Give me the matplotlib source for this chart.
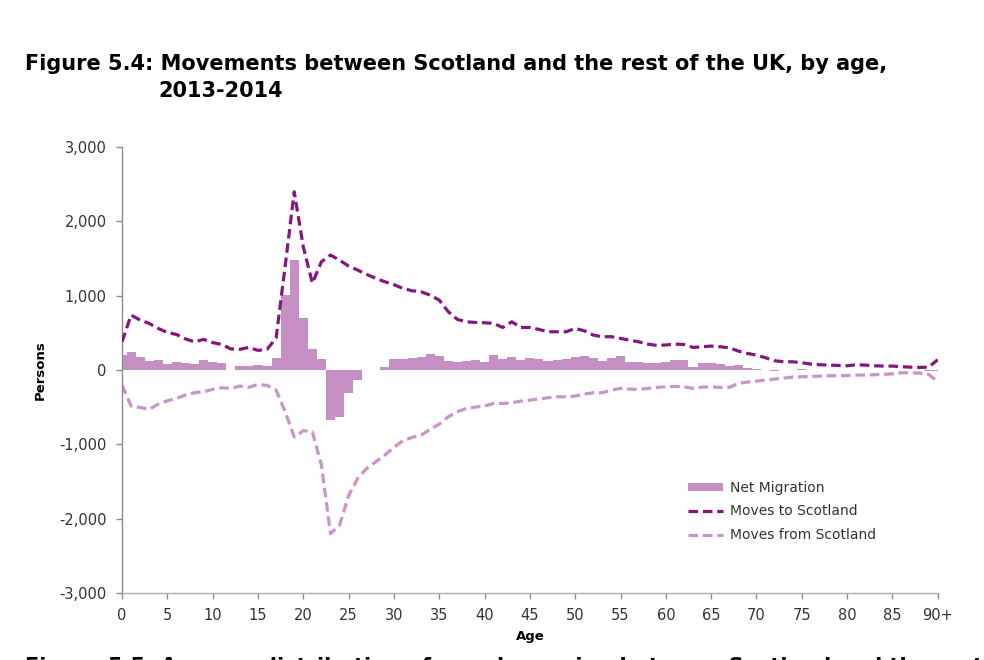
import numpy as np
import matplotlib
matplotlib.use('Agg')
import matplotlib.pyplot as plt
from matplotlib.patches import Patch
from matplotlib.lines import Line2D
from matplotlib.ticker import FuncFormatter

plt.rcParams['font.family'] = ['DejaVu Sans']

# --- dados (idade 0..90+) ---
idades = np.arange(0, 91)

moves_to = [381, 740, 673, 628, 560, 505, 480, 420, 380, 413,
            370, 345, 285, 280, 305, 265, 280, 430, 1400, 2400,
            1660, 1170, 1458, 1548, 1480, 1400, 1346, 1287, 1234, 1189,
            1150, 1099, 1068, 1054, 1009, 942, 785, 682, 650, 641,
            637, 628, 574, 650, 574, 574, 547, 516, 516, 516,
            561, 529, 471, 449, 449, 426, 404, 381, 350, 332,
            338, 350, 345, 305, 314, 323, 314, 300, 256, 224,
            202, 166, 126, 112, 112, 99, 81, 72, 67, 63,
            58, 72, 67, 58, 54, 54, 45, 40, 36, 40,
            140]

moves_from = [-202, -484, -502, -529, -458, -413, -381, -336, -305, -292,
              -260, -238, -247, -215, -233, -193, -206, -269, -560, -900,
              -816, -830, -1278, -2200, -2090, -1690, -1458, -1323, -1234, -1144,
              -1040, -950, -906, -875, -799, -727, -628, -561, -516, -498,
              -484, -449, -449, -440, -417, -404, -390, -372, -359, -359,
              -350, -323, -305, -305, -269, -247, -256, -260, -247, -233,
              -224, -220, -224, -247, -229, -224, -233, -233, -179, -161,
              -148, -135, -121, -108, -94, -90, -85, -81, -76, -76,
              -72, -67, -67, -63, -58, -49, -36, -36, -40, -58,
              -157]

net_migration = [200, 238, 180, 121, 135, 81, 112, 99, 76, 135,
                 112, 99, 0, 54, 54, 63, 58, 157, 1015, 1485,
                 705, 290, 145, -673, -637, -314, -135, -5, 5, 36,
                 143, 143, 157, 170, 215, 188, 121, 112, 121, 135,
                 112, 202, 143, 179, 135, 166, 152, 126, 135, 143,
                 170, 188, 157, 121, 157, 188, 112, 112, 99, 99,
                 105, 135, 130, 35, 100, 95, 80, 55, 75, 25,
                 20, 5, -15, 5, 8, 10, 5, 5, 5, 3,
                 2, 5, 3, 3, 3, 5, 8, 3, -3, -15,
                 -15]

xticks = list(range(0, 91, 5))
xticklabels = [str(t) for t in xticks[:-1]] + ['90+']

cor_barra = '#c68fc4'
cor_to = '#84167f'
cor_from = '#cc92ca'
cinza = '#8c8c8c'

fig = plt.figure(figsize=(9.84, 6.6), dpi=100)
ax = fig.add_axes([0.124, 0.1015, 0.829, 0.6755])

ax.bar(idades, net_migration, width=1.0, color=cor_barra, linewidth=0, zorder=1)
ax.plot(idades, moves_to, color=cor_to, lw=2.3, dashes=(3.0, 1.5), zorder=3)
ax.plot(idades, moves_from, color=cor_from, lw=2.3, dashes=(3.0, 1.5), zorder=2)

ax.set_xlim(0, 90)
ax.set_ylim(-3000, 3000)
ax.set_yticks(range(-3000, 3001, 1000))
ax.yaxis.set_major_formatter(FuncFormatter(lambda v, p: f'{int(v):,}'))
ax.set_xticks(xticks)
ax.set_xticklabels(xticklabels)

for s in ['top', 'right']:
    ax.spines[s].set_visible(False)
ax.spines['left'].set_color(cinza)
ax.spines['bottom'].set_color('#b0b0b0')
ax.spines['left'].set_linewidth(1.0)
ax.spines['bottom'].set_linewidth(1.0)
ax.tick_params(axis='both', colors=cinza, labelcolor='#333333', labelsize=10.5,
               length=4, width=1.0, direction='out')
ax.tick_params(axis='x', pad=7)
ax.tick_params(axis='y', pad=7)

ax.set_ylabel('Persons', fontsize=9.5, fontweight='bold', labelpad=9)
ax.set_xlabel('Age', fontsize=9.5, fontweight='bold', labelpad=5)

# título em duas linhas
fig.text(25 / 984, 1 - 64 / 660, 'Figure 5.4: Movements between Scotland and the rest of the UK, by age,',
         fontsize=15, fontweight='bold', va='center', ha='left')
fig.text(158 / 984, 1 - 91 / 660, '2013-2014',
         fontsize=15, fontweight='bold', va='center', ha='left')

# texto seguinte cortado na borda inferior
fig.text(25 / 984, 1 - 657 / 660, 'Figure 5.5: Age-sex distribution of people moving between Scotland and the rest of the UK',
         fontsize=15, fontweight='bold', va='top', ha='left')

handles = [Patch(facecolor=cor_barra, edgecolor='none'),
           Line2D([], [], color=cor_to, lw=2.3, dashes=(3.0, 1.5)),
           Line2D([], [], color=cor_from, lw=2.3, dashes=(3.0, 1.5))]
labels = ['Net Migration', 'Moves to Scotland', 'Moves from Scotland']
fig.legend(handles, labels, loc='upper left', bbox_to_anchor=(688 / 984, 1 - 481 / 660),
           frameon=False, fontsize=10, handlelength=2.5, handleheight=0.45,
           handletextpad=0.55, labelspacing=0.68, borderpad=0, borderaxespad=0,
           labelcolor='#333333')

fig.savefig('out.png', dpi=100)
